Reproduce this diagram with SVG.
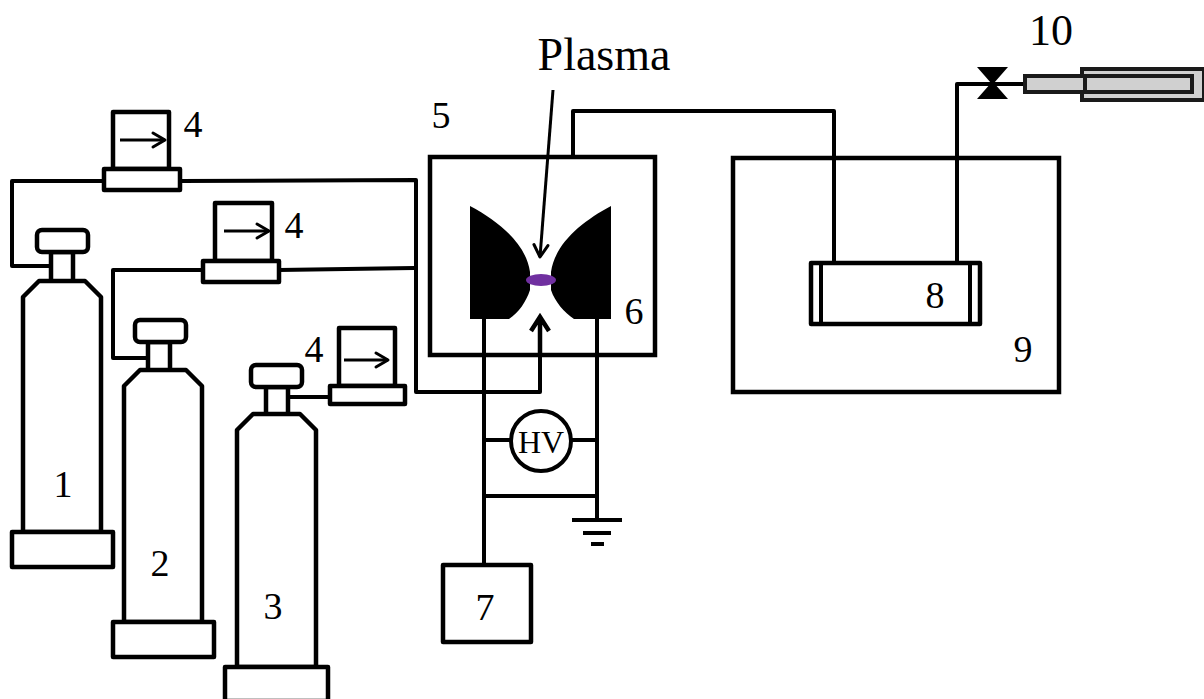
<svg xmlns="http://www.w3.org/2000/svg" width="1204" height="699" viewBox="0 0 1204 699">
<defs>
<marker id="open" viewBox="0 0 20 20" refX="17" refY="10" markerWidth="20" markerHeight="20" markerUnits="userSpaceOnUse" orient="auto"><path d="M5 3L17 10L5 17" fill="none" stroke="#000" stroke-width="3" stroke-linecap="round" stroke-linejoin="round"/></marker>
</defs>
<style>
.s{fill:#fff;stroke:#000;stroke-width:4.5;stroke-linejoin:round}
.l{fill:none;stroke:#000;stroke-width:4;stroke-linejoin:round}
.a{fill:none;stroke:#000;stroke-width:3}
.t{font-family:"Liberation Serif","Times New Roman",serif;font-size:38px;fill:#000;text-anchor:middle}
</style>
<rect width="1204" height="699" fill="#fff"/>
<g id="connectors">
<path class="l" d="M104 181H12V266H50"/>
<path class="l" d="M180 181L416 180V392H540V320"/>
<path class="l" d="M203 270H113V358H148"/>
<path class="l" d="M279 270L414 268"/>
<path class="l" d="M288 397H330"/>
<path class="l" d="M573 156V111H834V262"/>
<path class="l" d="M957 262V84H1025"/>
<path class="l" d="M484 318V565M597 318V519M484 440H512M570 440H597M484 496H597"/>
<path d="M553 90L540 257" class="a" marker-end="url(#open)"/>
</g>
<g id="cylinder-1"><path class="s" d="M23 532V297L39 281H85L101 297V532Z M51 281V252H73V281Z"/><rect class="s" x="37" y="230" width="51" height="22" rx="5"/><rect class="s" x="12" y="532" width="101" height="35"/><text class="t" x="63" y="497">1</text></g>
<g id="cylinder-2"><path class="s" d="M124 622V386L140 370H186L202 386V622Z M148 370V342H170V370Z"/><rect class="s" x="135" y="320" width="51" height="22" rx="5"/><rect class="s" x="113" y="622" width="101" height="35"/><text class="t" x="160" y="576">2</text></g>
<g id="cylinder-3"><path class="s" d="M237 667V430L253 414H300L316 430V667Z M266 414V387H288V414Z"/><rect class="s" x="251" y="365" width="51" height="22" rx="5"/><rect class="s" x="225" y="667" width="103" height="34"/><text class="t" x="273" y="619">3</text></g>
<g id="meter-1"><rect class="s" x="113" y="112" width="56" height="57"/><rect class="s" x="104" y="169" width="76" height="21"/><path d="M120 140H165" class="a" marker-end="url(#open)"/><text class="t" x="193" y="137">4</text></g>
<g id="meter-2"><rect class="s" x="215" y="203" width="57" height="58"/><rect class="s" x="203" y="261" width="76" height="21"/><path d="M224 231H269" class="a" marker-end="url(#open)"/><text class="t" x="294" y="238">4</text></g>
<g id="meter-3"><rect class="s" x="339" y="328" width="56" height="58"/><rect class="s" x="330" y="386" width="75" height="18"/><path d="M344 360H388" class="a" marker-end="url(#open)"/><text class="t" x="314" y="362">4</text></g>
<g id="chamber-5"><rect x="430" y="157" width="225" height="198" fill="none" stroke="#000" stroke-width="4.5"/><text class="t" x="441" y="128">5</text><path d="M470 206C500 222 526 244 530 272V290C526 302 519 312 509 319H470Z M611 206C581 222 555 244 551 272V290C555 302 564 312 574 319H611Z" fill="#000"/><ellipse cx="541" cy="280" rx="15" ry="6" fill="#7030a0"/><path d="M540 355V320M531 331L540 317L549 331" fill="none" stroke="#000" stroke-width="4.5"/><text class="t" x="634" y="324">6</text></g>
<text class="t" x="604" y="70" style="font-size:46px">Plasma</text>
<g id="hv"><circle cx="541" cy="441" r="30" fill="#fff" stroke="#000" stroke-width="4"/><text class="t" x="541" y="453" style="font-size:32px">HV</text></g>
<g id="ground"><path d="M572 520H622M583 533H611M591 544H604" fill="none" stroke="#000" stroke-width="4"/></g>
<g id="box-7"><rect class="s" x="443" y="565" width="88" height="77"/><text class="t" x="485" y="620">7</text></g>
<g id="oven-9"><rect x="733" y="158" width="326" height="234" fill="none" stroke="#000" stroke-width="4.5"/><text class="t" x="1023" y="362">9</text></g>
<g id="tube-8"><rect class="s" x="811" y="263" width="169" height="61"/><path class="l" d="M821 263V324M970 263V324"/><text class="t" x="935" y="308">8</text></g>
<g id="valve-10"><path d="M977 67H1008L994 83L1008 99H977L991 83Z" fill="#000"/><path d="M1082 69H1204V100H1082Z" fill="#d0d0d0" stroke="#1a1a1a" stroke-width="4"/><path d="M1025 76H1192V92H1025Z M1085 76V92" fill="#d0d0d0" stroke="#1a1a1a" stroke-width="4"/><text class="t" x="1051" y="45" style="font-size:44px">10</text></g>
</svg>
